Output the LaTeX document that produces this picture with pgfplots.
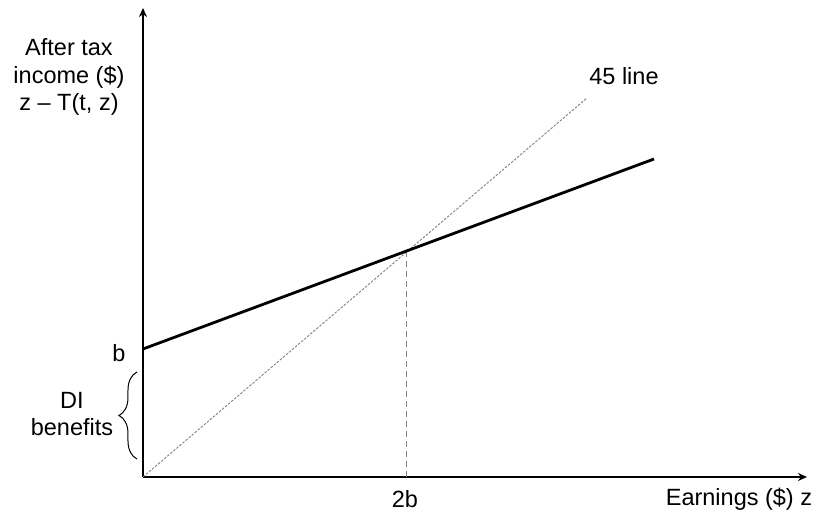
\documentclass[border=0pt]{standalone}
\usepackage{pgfplots}
\pgfplotsset{compat=1.18}
\usepackage{fontspec}
\setmainfont{Liberation Sans}
\usetikzlibrary{arrows.meta,decorations.pathreplacing}
\begin{document}
\begin{tikzpicture}[x=1pt,y=1pt]
\useasboundingbox (0,0) rectangle (817,519);
\fontsize{23.5}{27.5}\selectfont
\begin{axis}[
  at={(143pt,42pt)}, anchor=south west,
  scale only axis, width=664pt, height=469pt,
  xmin=0, xmax=664, ymin=0, ymax=469,
  axis lines=left,
  axis line style={line width=2.6pt, -{Stealth[length=9pt,width=8pt]}},
  xtick=\empty, ytick=\empty,
  clip=false,
]
% 45 degree line
\addplot[gray, line width=0.9pt, dash pattern=on 2.5pt off 1.5pt] coordinates {(0,0) (444,379)};
% vertical dashed at 2b
\addplot[gray, line width=0.9pt, dash pattern=on 6pt off 4pt] coordinates {(263,0) (263,226)};
% after tax income line
\addplot[black, line width=2.8pt] coordinates {(0,128) (511,318)};
\node[align=center, font=\fontsize{23.5}{27.5}\selectfont] at (axis cs:-74,400) {After tax\\income (\$)\\z -- T(t, z)};
\node[font=\fontsize{23.5}{27.5}\selectfont] at (axis cs:481,401) {45 line};
\node[font=\fontsize{23.5}{27.5}\selectfont] at (axis cs:-24,124) {b};
\node[align=center, font=\fontsize{23.5}{27.5}\selectfont] at (axis cs:-71,63) {DI\\benefits};
\node[font=\fontsize{23.5}{27.5}\selectfont] at (axis cs:262,-22) {2b};
\node[font=\fontsize{23.5}{27.5}\selectfont] at (axis cs:596,-22) {Earnings (\$) z};
\draw[line width=1pt, decorate, decoration={brace, amplitude=18pt}] (axis cs:-6,18) -- (axis cs:-6,105);
\end{axis}
\end{tikzpicture}
\end{document}
